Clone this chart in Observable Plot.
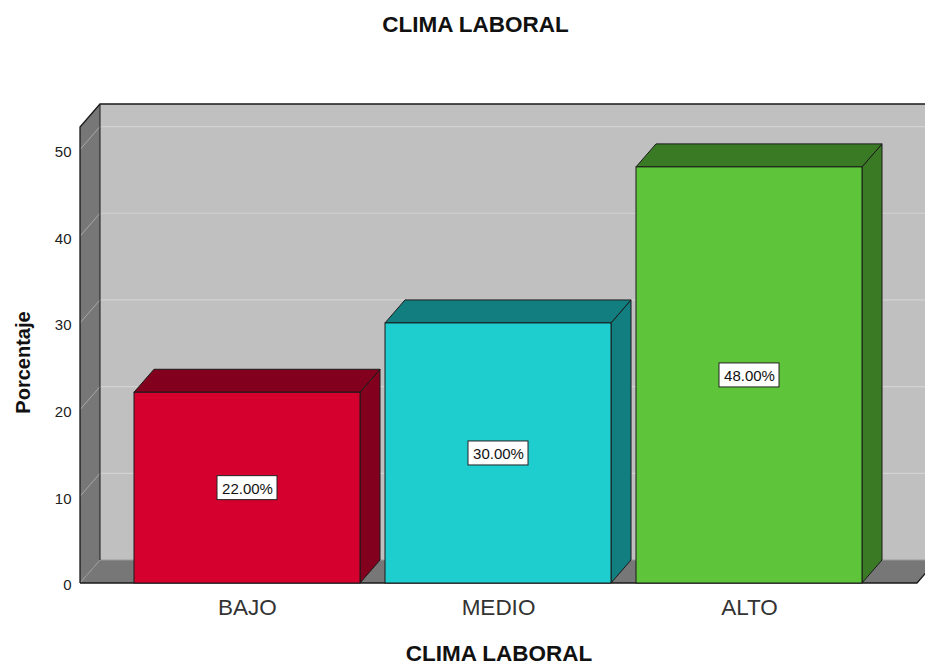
<!DOCTYPE html>
<html><head><meta charset="utf-8">
<script src="https://cdn.jsdelivr.net/npm/d3@7"></script>
<script src="https://cdn.jsdelivr.net/npm/@observablehq/plot@0.6"></script>
<style>body{margin:0;background:#fff} svg{display:block}</style>
</head><body><div id="chart"></div>
<script>
const categories = ["BAJO", "MEDIO", "ALTO"];
const percentages = [22, 30, 48];
const valueLabels = ["22.00%", "30.00%", "48.00%"];
const frontColors = ["#d6002f", "#1ecdce", "#5ec43a"];
const sideColors = ["#82001e", "#127e7f", "#3b7a25"];
const yTicks = [0, 10, 20, 30, 40, 50];
const chartTitle = "CLIMA LABORAL";
const xTitle = "CLIMA LABORAL";
const yTitle = "Porcentaje";

const data = categories.map((c, i) => ({cat: c, v: percentages[i], label: valueLabels[i], front: frontColors[i], side: sideColors[i]}));
const DX = 20, DY = -23;
const FONT = "Liberation Sans, Arial, Helvetica, sans-serif";

function walls(index, scales, values, dim) {
  const y = scales.y;
  const L = dim.marginLeft, R = dim.width - dim.marginRight;
  const y0 = y(0), yT = dim.marginTop;
  const g = d3.create("svg:g");
  g.append("rect").attr("x", L + DX).attr("y", yT + DY).attr("width", R - L).attr("height", y0 - yT).attr("fill", "#c0c0c0");
  g.append("path").attr("d", `M${L},${y0}L${L},${yT}L${L + DX},${yT + DY}L${L + DX},${y0 + DY}Z`).attr("fill", "#777777");
  g.append("path").attr("d", `M${L},${y0}L${R},${y0}L${R + DX},${y0 + DY}L${L + DX},${y0 + DY}Z`).attr("fill", "#777777");
  for (const t of yTicks) {
    if (t === 0) continue;
    const yy = y(t);
    g.append("line").attr("x1", L + DX).attr("x2", R + DX).attr("y1", yy + DY).attr("y2", yy + DY).attr("stroke", "#d2d2d2").attr("stroke-width", 1.2);
    g.append("line").attr("x1", L).attr("x2", L + DX).attr("y1", yy).attr("y2", yy + DY).attr("stroke", "#a8a8a8").attr("stroke-width", 1);
  }
  g.append("line").attr("x1", L + DX).attr("x2", R + DX).attr("y1", y0 + DY).attr("y2", y0 + DY).attr("stroke", "#9a9a9a");
  g.append("line").attr("x1", L).attr("x2", L + DX).attr("y1", y0).attr("y2", y0 + DY).attr("stroke", "#9a9a9a");
  g.append("path").attr("d", `M${L},${y0}L${L},${yT}L${L + DX},${yT + DY}L${R + DX},${yT + DY}`).attr("fill", "none").attr("stroke", "#1a1a1a").attr("stroke-width", 1.3);
  g.append("line").attr("x1", L + DX).attr("x2", L + DX).attr("y1", yT + DY).attr("y2", y0 + DY).attr("stroke", "#1a1a1a");
  g.append("path").attr("d", `M${L},${y0}L${R},${y0}L${R + DX},${y0 + DY}`).attr("fill", "none").attr("stroke", "#1a1a1a").attr("stroke-width", 1.3);
  return g.node();
}

function barDepth(index, scales, values, dim) {
  const {x, y} = scales;
  const bw = x.bandwidth();
  const g = d3.create("svg:g");
  for (const d of data) {
    const x0 = x(d.cat), x1 = x0 + bw, yt = y(d.v), yb = y(0);
    g.append("path").attr("d", `M${x1},${yb}L${x1},${yt}L${x1 + DX},${yt + DY}L${x1 + DX},${yb + DY}Z`)
      .attr("fill", d.side).attr("stroke", "#1a1a1a").attr("stroke-linejoin", "round");
    g.append("path").attr("d", `M${x0},${yt}L${x1},${yt}L${x1 + DX},${yt + DY}L${x0 + DX},${yt + DY}Z`)
      .attr("fill", d.side).attr("stroke", "#1a1a1a").attr("stroke-linejoin", "round");
  }
  return g.node();
}

const chart = Plot.plot({
  width: 925,
  height: 666,
  marginLeft: 80,
  marginRight: 8,
  marginTop: 127,
  marginBottom: 83,
  style: {fontFamily: FONT, background: "#fff", overflow: "hidden"},
  x: {type: "band", domain: categories, range: [121.5, 874.5], paddingInner: 0.1, paddingOuter: 0.05, align: 0.5, axis: null},
  y: {domain: [0, 52.6], axis: null},
  marks: [
    walls,
    barDepth,
    Plot.barY(data, {x: "cat", y: "v", fill: "front", stroke: "#1a1a1a", strokeWidth: 1}),
    Plot.barY(data, {x: "cat", y1: d => d.v / 2, y2: d => d.v / 2, insetLeft: 83, insetRight: 83, insetTop: -12, insetBottom: -12, fill: "white", stroke: "#222", strokeWidth: 1}),
    Plot.text(data, {x: "cat", y: d => d.v / 2, text: "label", fontSize: 15, fill: "#111", dy: 1}),
    Plot.text(yTicks, {y: d => d, text: d => String(d), frameAnchor: "left", textAnchor: "end", lineAnchor: "middle", dx: -9, dy: 2, fontSize: 15, fill: "#222"}),
    Plot.text(categories, {x: d => d, text: d => d, frameAnchor: "bottom", lineAnchor: "middle", dy: 24, fontSize: 22.5, fill: "#333"}),
    Plot.text([xTitle], {frameAnchor: "bottom", lineAnchor: "middle", dy: 70, fontSize: 22.5, fontWeight: "bold", fill: "#111"}),
    Plot.text([chartTitle], {frameAnchor: "top", lineAnchor: "middle", dx: -23.5, dy: -103, fontSize: 22.5, fontWeight: "bold", fill: "#111"}),
    Plot.text([yTitle], {frameAnchor: "left", textAnchor: "middle", lineAnchor: "middle", dx: -57, dy: 7, rotate: -90, fontSize: 20, fontWeight: "bold", fill: "#111"})
  ]
});
document.getElementById("chart").appendChild(chart);
</script>
</body></html>
